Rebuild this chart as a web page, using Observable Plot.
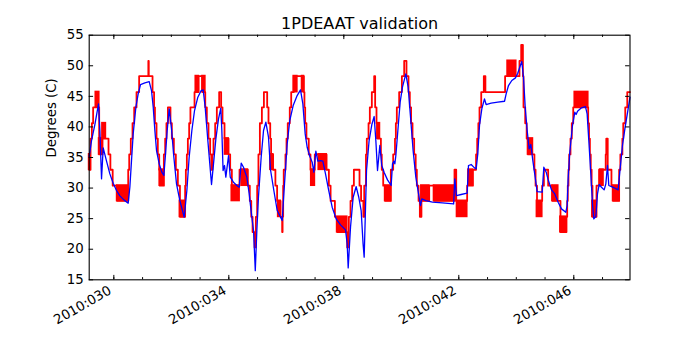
<!DOCTYPE html>
<html><head><meta charset="utf-8">
<script src="https://cdn.jsdelivr.net/npm/d3@7"></script>
<script src="https://cdn.jsdelivr.net/npm/@observablehq/plot@0.6"></script>
<style>body{margin:0;background:#fff}svg{display:block}</style>
</head><body><div id="chart"></div>
<script>
const title = "1PDEAAT validation";
const yLabel = "Degrees (C)";
const xDomain = [29.143, 47.955];
const yDomain = [15, 55];
const xMajorTicks = [30, 34, 38, 42, 46];
const xTickLabels = ["2010:030", "2010:034", "2010:038", "2010:042", "2010:046"];
const xMinorTicks = [30,31,32,33,34,35,36,37,38,39,40,41,42,43,44,45,46,47];
const yTicks = [15,20,25,30,35,40,45,50,55];

// model (blue)
const modelT = [29.143,29.224,29.34,29.467,29.514,29.572,29.63,29.746,29.862,29.977,
30.093,30.21,30.35,30.50,30.557,30.615,30.673,30.766,30.847,30.928,
31.079,31.23,31.31,31.37,31.427,31.485,31.578,31.67,31.74,31.798,
31.856,31.925,32.006,32.088,32.18,32.296,32.447,32.54,32.62,32.714,
32.807,32.922,33.038,33.108,33.177,33.27,33.398,33.467,33.549,33.641,
33.72,33.757,33.80,33.85,33.896,33.99,34.05,34.16,34.28,34.36,
34.43,34.51,34.627,34.708,34.80,34.86,34.92,34.975,35.03,35.125,
35.207,35.288,35.38,35.45,35.566,35.682,35.856,35.937,36.03,36.12,
36.238,36.377,36.493,36.575,36.656,36.725,36.818,36.9,36.957,37.027,
37.096,37.19,37.27,37.363,37.479,37.595,37.734,37.885,38.06,38.117,
38.152,38.233,38.325,38.43,38.52,38.603,38.67,38.708,38.79,38.88,
38.975,39.056,39.114,39.172,39.253,39.32,39.40,39.52,39.647,39.694,
39.74,39.775,39.81,39.88,39.96,40.04,40.157,40.238,40.33,40.41,
40.505,40.6,40.667,40.714,40.853,41.085,41.43,41.82,41.86,41.92,
42.08,42.29,42.337,42.43,42.546,42.604,42.66,42.72,42.8,42.893,
42.95,43.125,43.357,43.59,43.647,43.728,43.844,43.97,44.05,44.12,
44.19,44.25,44.31,44.378,44.447,44.505,44.575,44.656,44.725,44.9,
44.957,45.04,45.10,45.224,45.34,45.456,45.572,45.722,45.769,45.80,
45.86,45.954,46.036,46.08,46.13,46.267,46.406,46.464,46.522,46.592,
46.65,46.696,46.766,46.824,46.882,46.963,47.056,47.114,47.172,47.218,
47.31,47.427,47.543,47.6,47.693,47.786,47.88,47.955];
const modelV = [35.16,37.77,40.39,43.77,39.41,31.51,36.58,34.4,32.32,30.8,
29.6,28.73,28.07,27.53,30.14,34.5,38.86,43.22,45.4,46.93,
47.2,47.42,45.95,43.22,39.41,36.14,33.96,32.6,32.05,35.6,
39.41,42.95,39.68,35.05,30.69,27.96,25.24,29.6,35.05,39.41,
42.68,44.86,45.95,46.06,43.22,37.77,30.58,33.96,38.05,41.32,
43.06,39.41,32.87,33.69,31.78,35.32,31.78,30.96,30.42,30.14,
34.07,33.41,31.78,29.05,25.24,23.06,16.5,23.06,28.5,35.05,
39.41,40.77,38.32,33.0,29.6,26.33,24.69,30.69,37.23,41.05,
43.5,45.13,46.06,43.77,38.86,36.68,35.16,34.23,32.6,36.03,
34.4,34.5,34.4,32.32,29.49,26.87,24.96,23.98,23.17,20.88,
16.95,23.6,28.5,30.25,28.5,26.33,20.88,18.7,32.87,37.77,
40.39,41.7,37.77,32.87,36.96,33.69,32.6,31.34,30.42,33.96,
34.4,33.96,35.32,39.41,44.04,46.5,48.68,46.5,41.05,36.14,
31.78,29.05,27.15,28.24,27.96,27.69,27.58,27.4,31.5,28.78,
28.95,29.16,33.69,33.85,33.3,33.14,35.59,40.23,42.95,44.59,
43.66,43.88,44.04,44.2,45.4,46.77,47.59,48.02,48.79,49.77,
50.7,48.13,43.22,39.41,36.41,37.12,34.5,31.78,29.43,29.33,
33.41,32.6,31.5,29.7,29.05,27.69,26.6,26.05,27.14,31.23,
35.86,40.23,42.41,42.03,42.57,43.12,43.33,42.14,37.77,32.32,
27.42,24.96,25.35,29.05,30.58,30.14,29.7,30.69,33.69,30.42,
30.25,29.98,29.7,32.6,36.96,39.96,42.68,44.86];

// telemetry (red), quantized step levels: value holds from each time onward
const telemT = [29.143,29.19,29.236,29.28,29.49,29.606,29.815,29.88,29.96,30.117,
30.50,30.535,30.59,30.65,30.708,30.789,30.88,31.20,31.215,31.346,
31.40,31.43,31.485,31.53,31.578,31.60,31.74,31.786,31.83,31.88,
31.97,32.018,32.088,32.157,32.227,32.30,32.48,32.505,32.54,32.575,
32.62,32.664,32.807,32.95,33.085,33.18,33.235,33.293,33.35,33.39,
33.43,33.467,33.525,33.583,33.664,33.733,33.78,33.85,33.99,34.047,
34.105,34.372,34.66,34.73,34.78,34.826,34.895,34.94,34.986,35.03,
35.08,35.15,35.22,35.334,35.38,35.44,35.47,35.54,35.62,35.68,
35.80,35.855,35.87,35.89,35.91,35.97,36.007,36.05,36.12,36.17,
36.26,36.61,36.63,36.656,36.70,36.78,36.84,36.99,37.40,37.48,
37.54,37.69,37.77,38.117,38.175,38.233,38.29,38.35,38.546,38.60,
38.68,38.71,38.77,38.80,38.86,38.905,38.975,39.056,39.09,39.137,
39.172,39.29,39.32,39.37,39.44,39.636,39.717,39.78,39.81,39.844,
39.925,40.02,40.10,40.18,40.25,40.296,40.34,40.39,40.447,40.50,
40.54,40.60,40.645,40.70,40.97,41.14,41.85,41.91,42.29,42.49,
42.6,42.64,42.68,42.72,42.78,42.87,42.925,43.61,44.11,44.17,
44.23,44.25,44.31,44.36,44.41,44.63,44.67,44.72,44.9,44.96,
45.108,45.26,45.537,45.746,45.77,45.79,45.815,45.84,45.885,45.93,
45.98,46.5,46.53,46.56,46.59,46.62,46.65,46.79,46.88,47.11,
47.13,47.18,47.31,47.37,47.577,47.62,47.69,47.72,47.79,47.86,
47.955];
const telemV = [33.0,38.1,40.6,43.2,35.5,38.1,35.5,33.0,30.4,27.9,
33.0,35.5,38.1,40.6,43.2,45.7,48.3,50.8,48.3,45.7,
43.2,40.6,38.1,35.5,33.0,30.4,35.5,38.1,40.6,43.2,
40.6,38.1,35.5,33.0,30.4,25.3,30.4,33.0,35.5,38.1,
40.6,43.2,45.7,48.3,45.7,43.2,40.6,38.1,35.5,33.0,
35.5,38.1,40.6,43.2,45.7,43.2,40.6,38.1,35.5,33.0,
30.4,33.0,30.4,27.9,25.3,22.8,20.3,25.3,30.4,35.5,
40.6,43.2,45.7,43.2,40.6,38.1,35.5,33.0,30.4,27.9,
25.3,22.8,25.3,30.4,33.0,35.5,38.1,40.6,43.2,45.7,
48.3,45.7,43.2,40.6,38.1,35.5,33.0,35.5,33.0,30.4,
27.9,25.3,22.8,20.3,25.3,27.9,30.4,33.0,30.4,27.9,
25.3,30.4,35.5,38.1,40.6,43.2,45.7,48.3,43.2,40.6,
38.1,35.5,33.0,30.4,27.9,33.0,35.5,38.1,40.6,43.2,
45.7,48.3,50.8,48.3,45.7,43.2,40.6,38.1,35.5,33.0,
30.4,27.9,25.3,27.9,30.4,27.9,33.0,27.9,30.4,33.0,
35.5,38.1,40.6,43.2,45.7,48.3,45.7,48.3,50.8,53.4,
48.3,43.2,40.6,38.1,35.5,33.0,30.4,27.9,30.4,33.0,
30.4,27.9,22.8,25.3,27.9,30.4,33.0,35.5,38.1,40.6,
43.2,40.6,38.1,35.5,33.0,30.4,25.3,30.4,33.0,35.5,
38.1,33.0,30.4,27.9,33.0,35.5,38.1,40.6,43.2,45.7,
45.7];

// stretches where telemetry toggles rapidly between two adjacent levels
const toggleStart = [29.143,29.375,29.49,29.606,30.117,31.60,32.30,32.853,33.085,33.87,
34.105,34.45,35.45,35.72,36.26,36.55,36.87,37.13,37.77,39.172,
39.44,40.70,41.14,41.94,42.337,43.70,44.41,44.72,45.26,45.537,
46.036,46.65,46.92,47.37];
const toggleEnd = [29.19,29.49,29.606,29.72,30.50,31.74,32.48,32.95,33.18,33.99,
34.372,34.66,35.54,35.80,36.38,36.61,36.99,37.40,38.117,39.253,
39.636,40.97,41.84,42.29,42.49,43.995,44.575,44.9,45.456,45.746,
46.5,46.79,47.03,47.577];
const toggleLow = [33.0,43.2,35.5,38.1,27.9,30.4,25.3,45.7,45.7,35.5,
27.9,30.4,33.0,25.3,45.7,45.7,30.4,33.0,22.8,38.1,
27.9,27.9,27.9,25.3,30.4,48.3,35.5,25.3,27.9,22.8,
43.2,25.3,30.4,27.9];
const toggleHigh = [35.5,45.7,38.1,40.6,30.4,33.0,27.9,48.3,48.3,38.1,
30.4,33.0,35.5,27.9,48.3,48.3,33.0,35.5,25.3,40.6,
30.4,30.4,30.4,27.9,33.0,50.8,38.1,27.9,30.4,25.3,
45.7,27.9,33.0,30.4];

const model = modelT.map((t, i) => ({t, v: modelV[i]}));
const telem = telemT.map((t, i) => ({t, v: telemV[i]}));
const toggles = toggleStart.map((t1, i) => ({t1, t2: toggleEnd[i], lo: toggleLow[i], hi: toggleHigh[i]}));

const W = 700, H = 350;
const ml = 88.7, mr = 70.5, mt = 34.7, mb = 70.7;
const kx = (xDomain[1] - xDomain[0]) / (W - ml - mr);
const ky = (yDomain[1] - yDomain[0]) / (H - mt - mb);
const major = 4.4, minor = 2.2;
const FS = 13.3;

const chart = Plot.plot({
  width: W, height: H,
  marginLeft: ml, marginRight: mr, marginTop: mt, marginBottom: mb,
  style: {fontFamily: "DejaVu Sans", fontSize: FS + "px", background: "white", color: "black"},
  x: {domain: xDomain, axis: null},
  y: {domain: yDomain},
  marks: [
    Plot.rect(toggles, {x1: "t1", x2: "t2", y1: "lo", y2: "hi", fill: "#ff0000", stroke: "#ff0000", strokeWidth: 1.8}),
    Plot.line(telem, {x: "t", y: "v", curve: "step-after", stroke: "#ff0000", strokeWidth: 1.8}),
    Plot.line(model, {x: "t", y: "v", stroke: "#0000ff", strokeWidth: 1.3}),
    Plot.frame({stroke: "black", strokeWidth: 1.1}),
    // inward ticks, bottom and top
    Plot.ruleX(xMinorTicks, {x: d => d, y1: yDomain[0], y2: yDomain[0] + minor * ky, stroke: "black"}),
    Plot.ruleX(xMinorTicks, {x: d => d, y1: yDomain[1] - minor * ky, y2: yDomain[1], stroke: "black"}),
    Plot.ruleX(xMajorTicks, {x: d => d, y1: yDomain[0], y2: yDomain[0] + major * ky, stroke: "black"}),
    Plot.ruleX(xMajorTicks, {x: d => d, y1: yDomain[1] - major * ky, y2: yDomain[1], stroke: "black"}),
    // inward ticks, left and right
    Plot.ruleY(yTicks, {y: d => d, x1: xDomain[0], x2: xDomain[0] + major * kx, stroke: "black"}),
    Plot.ruleY(yTicks, {y: d => d, x1: xDomain[1] - major * kx, x2: xDomain[1], stroke: "black"}),
    Plot.axisY({ticks: yTicks, tickSize: 0, tickPadding: 5.5, label: null, fontSize: FS}),
    Plot.text(xMajorTicks, {x: d => d, text: (d, i) => xTickLabels[i], frameAnchor: "bottom",
      rotate: -30, textAnchor: "end", lineAnchor: "top", dx: -6.3, dy: 5, fontSize: FS, fill: "black"}),
    Plot.text([title], {frameAnchor: "top", dy: -6.7, lineAnchor: "bottom", fontSize: 16, fill: "black"}),
    Plot.text([yLabel], {frameAnchor: "left", dx: -33, rotate: -90, lineAnchor: "bottom", fontSize: FS, fill: "black"})
  ]
});
document.getElementById("chart").appendChild(chart);
</script>
</body></html>
